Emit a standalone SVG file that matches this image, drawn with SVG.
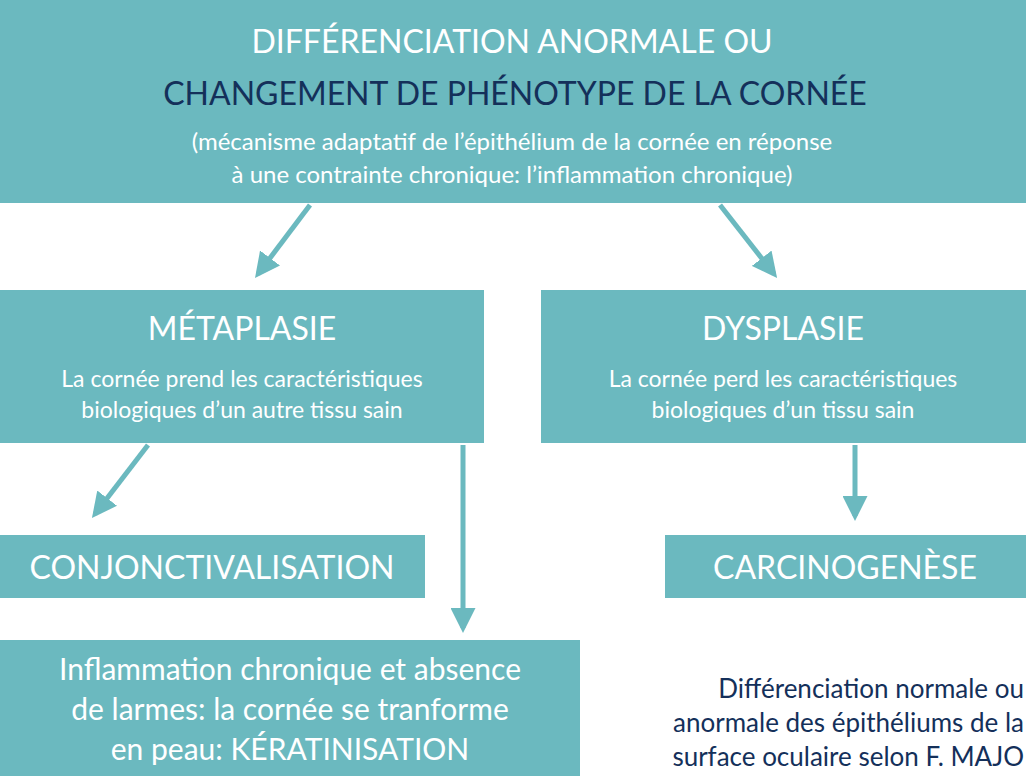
<svg xmlns="http://www.w3.org/2000/svg" width="1030" height="776" viewBox="0 0 1030 776">
<style>
.b{fill:#6bb9bf}
text{font-family:"Lato","Open Sans",sans-serif;text-anchor:middle}
.w{fill:#fff}
.n{fill:#14305a}
.l{stroke:#6bb9bf;stroke-width:5;fill:none}
</style>
<defs><marker id="a" viewBox="0 0 10 10" refX="8" refY="5" markerWidth="5" markerHeight="5" orient="auto" markerUnits="strokeWidth"><path d="M0,0L10,5L0,10z" fill="#6bb9bf"/></marker></defs>
<rect width="1030" height="776" fill="#fff"/>
<g id="top"><rect class="b" x="0" y="0" width="1026" height="203"/>
<text class="w" x="512" y="53" font-size="32">DIFFÉRENCIATION ANORMALE OU</text>
<text class="n" x="515" y="105" font-size="32">CHANGEMENT DE PHÉNOTYPE DE LA CORNÉE</text>
<text class="w" x="512" y="150" font-size="24">(mécanisme adaptatif de l’épithélium de la cornée en réponse</text>
<text class="w" x="512" y="183" font-size="24">à une contrainte chronique: l’inflammation chronique)</text></g>
<g id="meta"><rect class="b" x="0" y="290" width="484" height="153"/>
<text class="w" x="242" y="340" font-size="32">MÉTAPLASIE</text>
<text class="w" x="242" y="387" font-size="23">La cornée prend les caractéristiques</text>
<text class="w" x="242" y="418" font-size="23">biologiques d’un autre tissu sain</text></g>
<g id="dys"><rect class="b" x="541" y="290" width="485" height="153"/>
<text class="w" x="783" y="340" font-size="32">DYSPLASIE</text>
<text class="w" x="783" y="387" font-size="23">La cornée perd les caractéristiques</text>
<text class="w" x="783" y="418" font-size="23">biologiques d’un tissu sain</text></g>
<g id="conj"><rect class="b" x="0" y="535" width="425" height="63"/>
<text class="w" x="212" y="579" font-size="32">CONJONCTIVALISATION</text></g>
<g id="carc"><rect class="b" x="665" y="535" width="361" height="63"/>
<text class="w" x="845" y="579" font-size="32">CARCINOGENÈSE</text></g>
<g id="kera"><rect class="b" x="0" y="640" width="580" height="136"/>
<text class="w" x="290" y="680" font-size="30">Inflammation chronique et absence</text>
<text class="w" x="290" y="720" font-size="30">de larmes: la cornée se tranforme</text>
<text class="w" x="290" y="760" font-size="30">en peau: KÉRATINISATION</text></g>
<g id="note"><text class="n" x="1024" y="698" font-size="26" style="text-anchor:end">Différenciation normale ou</text>
<text class="n" x="1024" y="732" font-size="26" style="text-anchor:end">anormale des épithéliums de la</text>
<text class="n" x="1024" y="766" font-size="26" style="text-anchor:end">surface oculaire selon F. MAJO</text></g>
<g id="connectors">
<line class="l" x1="310" y1="205" x2="258" y2="274" marker-end="url(#a)"/>
<line class="l" x1="720" y1="205" x2="774" y2="274" marker-end="url(#a)"/>
<line class="l" x1="148" y1="445" x2="95" y2="514" marker-end="url(#a)"/>
<line class="l" x1="463" y1="445" x2="463" y2="628" marker-end="url(#a)"/>
<line class="l" x1="855" y1="445" x2="855" y2="516" marker-end="url(#a)"/>
</g>
</svg>
